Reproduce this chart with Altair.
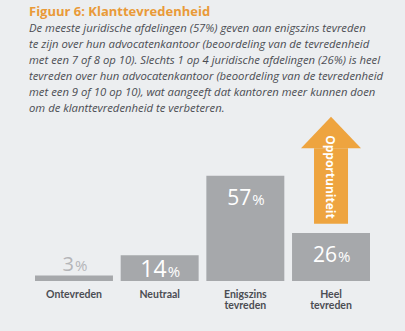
import altair as alt
import pandas as pd

categories = ["Ontevreden", "Neutraal", "Enigszins tevreden", "Heel tevreden"]
label_line1 = ["Ontevreden", "Neutraal", "Enigszins", "Heel"]
label_line2 = ["", "", "tevreden", "tevreden"]
values = [3, 14, 57, 26]
arrow_category = "Heel tevreden"
arrow_from = 31
arrow_head_base = 72
arrow_tip = 89
arrow_label = "Opportuniteit"

title_text = "Figuur 6: Klanttevredenheid"
subtitle_lines = [
    "De meeste juridische afdelingen (57%) geven aan enigszins tevreden",
    "te zijn over hun advocatenkantoor (beoordeling van de tevredenheid",
    "met een 7 of 8 op 10). Slechts 1 op 4 juridische afdelingen (26%) is heel",
    "tevreden over hun advocatenkantoor (beoordeling van de tevredenheid",
    "met een 9 of 10 op 10), wat aangeeft dat kantoren meer kunnen doen",
    "om de klanttevredenheid te verbeteren.",
]

BG = "#eceef0"
BAR = "#a6a8ab"
ORANGE = "#eea43f"
TEXT = "#4b4d53"
FONT = "Open Sans"

df = pd.DataFrame({"cat": categories, "v": values, "l1": label_line1, "l2": label_line2})
df["num"] = df["v"].astype(str)
df["pct"] = "%"

arrow_df = pd.DataFrame({"cat": [arrow_category], "y0": [arrow_from], "y1": [arrow_head_base],
                         "tip": [arrow_tip], "label": [arrow_label]})

x = alt.X("cat:N", sort=categories, axis=None,
          scale=alt.Scale(paddingInner=0.09, paddingOuter=0))
y_scale = alt.Scale(domain=[0, 90], nice=False, zero=True)

base = alt.Chart(df).encode(x=x)

bars = base.mark_bar(color=BAR).encode(y=alt.Y("v:Q", scale=y_scale, axis=None))

big = base.transform_filter("datum.v >= 20")
mid = base.transform_filter("datum.v >= 10 && datum.v < 20")
small = base.transform_filter("datum.v < 10")

def num_pct(b, dy, dx, color, size):
    n = b.mark_text(align="right", baseline="alphabetic", dy=dy, dx=dx, font=FONT,
                    fontSize=size, color=color).encode(y=alt.Y("v:Q", scale=y_scale), text="num:N")
    p = b.mark_text(align="left", baseline="alphabetic", dy=dy, dx=dx + 1, font=FONT,
                    fontSize=15, color=color).encode(y=alt.Y("v:Q", scale=y_scale), text="pct:N")
    return n + p

labels = (num_pct(big, 29, 6, "white", 21) + num_pct(mid, 22, 7, "white", 23)
          + num_pct(small, -4, 0, "#b4b5b8", 20))

cat1 = base.mark_text(baseline="top", dy=9, font="Lato", fontSize=10.5, fontWeight="bold",
                      color=TEXT).encode(y=alt.datum(0, scale=y_scale), text="l1:N")
cat2 = base.mark_text(baseline="top", dy=20, font="Lato", fontSize=10.5, fontWeight="bold",
                      color=TEXT).encode(y=alt.datum(0, scale=y_scale), text="l2:N")

arrow_base = alt.Chart(arrow_df).encode(x=x)
shaft = arrow_base.mark_bar(color=ORANGE, size=34).encode(
    y=alt.Y("y0:Q", scale=y_scale), y2="y1:Q")
head = arrow_base.mark_point(shape="M-1,0L1,0L0,-1.05Z", size=3600, filled=True,
                             color=ORANGE, opacity=1, strokeWidth=0).encode(
    y=alt.Y("y1:Q", scale=y_scale))
arrow_text = arrow_base.mark_text(angle=90, align="left", baseline="middle", dx=-13, dy=1,
                                  font=FONT, fontSize=12, fontWeight="bold", color="white").encode(
    y=alt.Y("y1:Q", scale=y_scale), text="label:N")

chart = alt.layer(bars, labels, cat1, cat2, shaft, head, arrow_text).properties(
    width=335, height=166,
    padding={"left": 35, "top": 115, "right": 35, "bottom": 50},
    autosize=alt.AutoSizeParams(type="none"),
    background=BG,
    title=alt.TitleParams(
        text=title_text, subtitle=subtitle_lines, anchor="start", frame="group",
        font=FONT, fontSize=13, fontWeight="bold", color="#e99a38",
        subtitleFont=FONT, subtitleFontSize=11.3, subtitleFontStyle="italic",
        subtitleColor=TEXT, subtitleLineHeight=16, subtitlePadding=4,
        offset=1, dx=-6,
    ),
).configure_view(stroke=None)

chart.save("out.html", embed_options={"renderer": "svg", "actions": False})
